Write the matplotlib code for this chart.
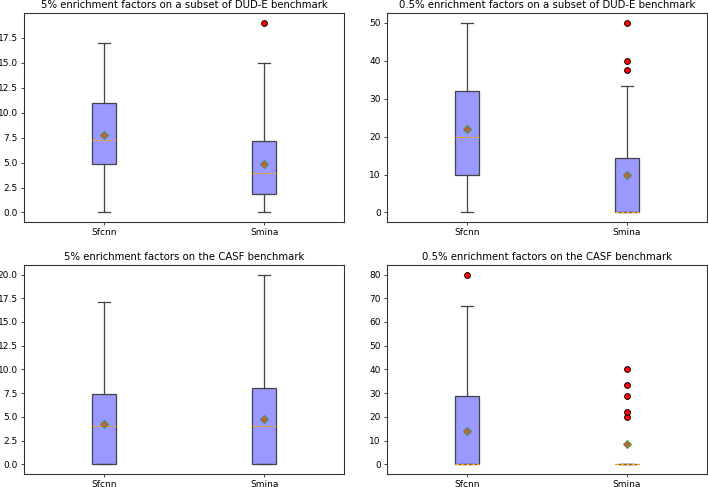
import numpy as np
import matplotlib
matplotlib.use("Agg")
import matplotlib.pyplot as plt

labels = ["Sfcnn", "Smina"]
titles = ["5% enrichment factors on a subset of DUD-E benchmark",
          "0.5% enrichment factors on a subset of DUD-E benchmark",
          "5% enrichment factors on the CASF benchmark",
          "0.5% enrichment factors on the CASF benchmark"]

# per panel: [Sfcnn, Smina]
whislo = [[0, 0], [0, 0], [0, 0], [0, 0]]
q1 = [[4.85, 1.9], [10, 0], [0, 0], [0, 0]]
med = [[7.3, 4.0], [20, 0], [4.0, 4.0], [0, 0]]
q3 = [[11.0, 7.15], [31.9, 14.3], [7.45, 8.0], [28.6, 0]]
whishi = [[17, 15], [50, 33.3], [17.14, 20], [66.7, 0]]
means = [[7.8, 4.85], [22.0, 10.0], [4.28, 4.82], [14.1, 8.6]]
fliers = [[[], [19]],
          [[], [37.5, 40, 50]],
          [[], []],
          [[80], [20, 22.2, 28.6, 33.3, 40]]]

DPI = 65
plt.rcParams["axes.linewidth"] = 1.2
plt.rcParams["axes.edgecolor"] = "#333333"
fig, axes = plt.subplots(2, 2, figsize=(708 / DPI, 487 / DPI), dpi=DPI)
fig.subplots_adjust(left=0.034, right=0.9986, bottom=0.027, top=0.973,
                    wspace=0.134, hspace=0.206)

lc = "#444444"
for i, ax in enumerate(axes.flat):
    stats = []
    for j in range(2):
        stats.append(dict(label=labels[j], whislo=whislo[i][j], q1=q1[i][j],
                          med=med[i][j], q3=q3[i][j], whishi=whishi[i][j],
                          mean=means[i][j], fliers=np.array(fliers[i][j])))
    ax.bxp(stats, patch_artist=True, showmeans=True,
           boxprops=dict(facecolor="#9999ff", edgecolor=lc, linewidth=1.4),
           whiskerprops=dict(color=lc, linewidth=1.4),
           capprops=dict(color=lc, linewidth=1.4),
           medianprops=dict(color="orange", linestyle="--", linewidth=1.1),
           meanprops=dict(marker="D", markersize=7, markerfacecolor="#cd5c4c",
                          markeredgecolor="#2ca02c"),
           flierprops=dict(marker="o", markersize=6.5, markerfacecolor="red",
                           markeredgecolor="black"))
    ax.set_title(titles[i], fontsize=11.2)

fig.savefig("out.png", dpi=DPI)
